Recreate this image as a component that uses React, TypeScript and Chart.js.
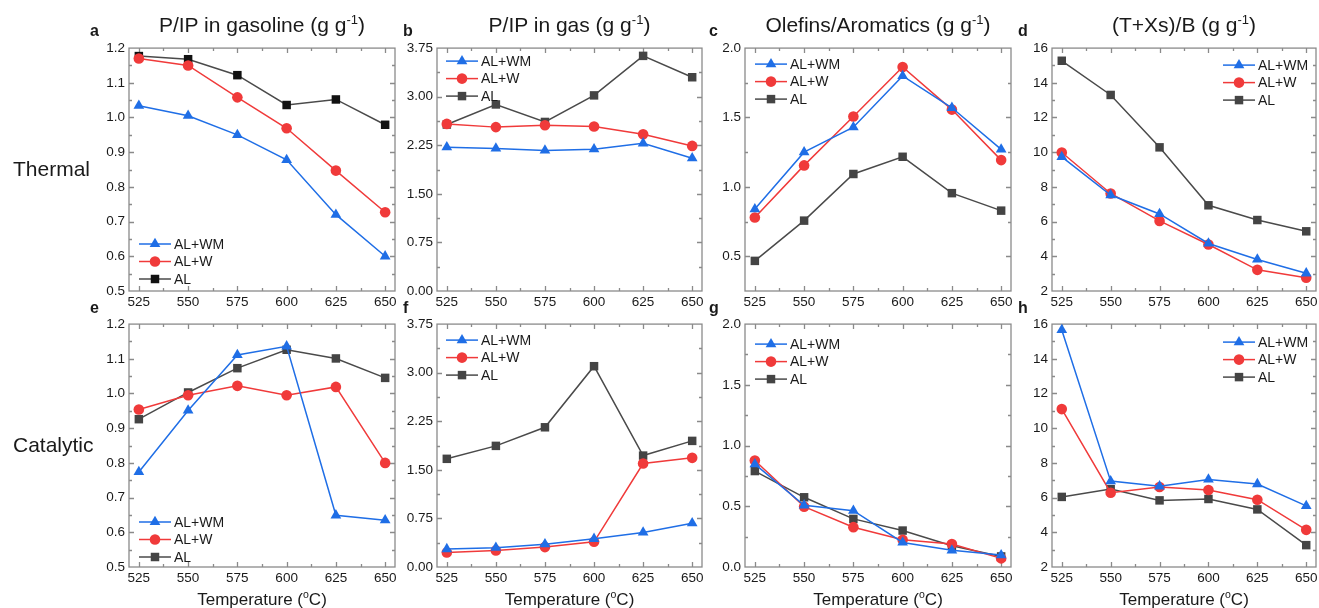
import React, { useEffect, useRef } from 'react';
import { Chart, registerables } from 'chart.js';

Chart.register(...registerables);

// ---------------- data ----------------
const temperatures = [525, 550, 575, 600, 625, 650];
const xTickValues = [525, 550, 575, 600, 625, 650];
const seriesLabels = ['AL+WM', 'AL+W', 'AL'];
const rowLabels = ['Thermal', 'Catalytic'];
const panelTitles = ['P/IP in gasoline', 'P/IP in gas', 'Olefins/Aromatics', '(T+Xs)/B'];
const panelLetters = ['a', 'b', 'c', 'd', 'e', 'f', 'g', 'h'];

// Thermal
const aWM = [1.034, 1.005, 0.95, 0.878, 0.72, 0.6];
const aW = [1.17, 1.15, 1.058, 0.969, 0.847, 0.727];
const aAL = [1.177, 1.168, 1.122, 1.036, 1.052, 0.979];

const bWM = [2.22, 2.2, 2.17, 2.19, 2.28, 2.05];
const bW = [2.58, 2.53, 2.56, 2.54, 2.42, 2.24];
const bAL = [2.57, 2.88, 2.61, 3.02, 3.63, 3.3];

const cWM = [0.84, 1.25, 1.43, 1.8, 1.57, 1.27];
const cW = [0.78, 1.155, 1.507, 1.864, 1.557, 1.193];
const cAL = [0.467, 0.757, 1.093, 1.217, 0.955, 0.829];

const dWM = [9.73, 7.53, 6.44, 4.74, 3.82, 3.02];
const dW = [9.98, 7.62, 6.04, 4.68, 3.22, 2.76];
const dAL = [15.27, 13.3, 10.28, 6.94, 6.09, 5.44];

// Catalytic
const eWM = [0.774, 0.951, 1.111, 1.136, 0.649, 0.635];
const eW = [0.954, 0.995, 1.022, 0.995, 1.019, 0.8];
const eAL = [0.926, 1.003, 1.073, 1.126, 1.101, 1.045];

const fWM = [0.277, 0.297, 0.353, 0.435, 0.533, 0.676];
const fW = [0.225, 0.256, 0.307, 0.389, 1.598, 1.685];
const fAL = [1.67, 1.87, 2.157, 3.1, 1.72, 1.947];

const gWM = [0.847, 0.508, 0.464, 0.202, 0.137, 0.098];
const gW = [0.877, 0.497, 0.328, 0.224, 0.189, 0.071];
const gAL = [0.79, 0.574, 0.396, 0.3, 0.175, 0.087];

const hWM = [15.66, 6.95, 6.65, 7.05, 6.78, 5.52];
const hW = [11.1, 6.28, 6.61, 6.44, 5.88, 4.14];
const hAL = [6.04, 6.49, 5.84, 5.92, 5.32, 3.26];

// y tick labels
const ticksGasoline = [0.5, 0.6, 0.7, 0.8, 0.9, 1.0, 1.1, 1.2];
const ticksGas = [0, 0.75, 1.5, 2.25, 3.0, 3.75];
const ticksOlefinsThermal = [0.5, 1.0, 1.5, 2.0];
const ticksOlefinsCat = [0, 0.5, 1.0, 1.5, 2.0];
const ticksTXB = [2, 4, 6, 8, 10, 12, 14, 16];

// ---------------- styling / layout ----------------
const FONT = "'Liberation Sans', Arial, Helvetica, sans-serif";
const BLUE = '#1f6ee6';
const RED = '#f03a3a';
const GRAY_LINE = '#4a4a4a';
const FRAME = '#8a8a8a';
const TEXT = '#1a1a1a';

const plotLefts = [129, 437, 745, 1052];
const plotWidths = [266, 265, 266, 264];
const rowTops = [46, 322];
const plotHeight = 245;
const PAD_L = 50;
const PAD_T = 10;
const PAD_R = 8;
const PAD_B = 26;

type Panel = {
  row: number;
  col: number;
  yMin: number;
  yMax: number;
  yTicks: number[];
  yMinor: number;
  decimals: number;
  series: number[][];
  alPoint: string;
  legend: { corner: 'tl' | 'bl' | 'tr'; dx: number; dy: number };
};

const panels: Panel[] = [
  { row: 0, col: 0, yMin: 0.5, yMax: 1.2, yTicks: ticksGasoline, yMinor: 0.05, decimals: 1, series: [aWM, aW, aAL], alPoint: '#111111', legend: { corner: 'bl', dx: 10, dy: -47 } },
  { row: 0, col: 1, yMin: 0, yMax: 3.75, yTicks: ticksGas, yMinor: 0.375, decimals: 2, series: [bWM, bW, bAL], alPoint: '#444444', legend: { corner: 'tl', dx: 9, dy: 13 } },
  { row: 0, col: 2, yMin: 0.25, yMax: 2.0, yTicks: ticksOlefinsThermal, yMinor: 0.25, decimals: 1, series: [cWM, cW, cAL], alPoint: '#444444', legend: { corner: 'tl', dx: 10, dy: 16 } },
  { row: 0, col: 3, yMin: 2, yMax: 16, yTicks: ticksTXB, yMinor: 1, decimals: 0, series: [dWM, dW, dAL], alPoint: '#444444', legend: { corner: 'tr', dx: -93, dy: 17 } },
  { row: 1, col: 0, yMin: 0.5, yMax: 1.2, yTicks: ticksGasoline, yMinor: 0.05, decimals: 1, series: [eWM, eW, eAL], alPoint: '#444444', legend: { corner: 'bl', dx: 10, dy: -45 } },
  { row: 1, col: 1, yMin: 0, yMax: 3.75, yTicks: ticksGas, yMinor: 0.375, decimals: 2, series: [fWM, fW, fAL], alPoint: '#444444', legend: { corner: 'tl', dx: 9, dy: 16 } },
  { row: 1, col: 2, yMin: 0, yMax: 2.0, yTicks: ticksOlefinsCat, yMinor: 0.25, decimals: 1, series: [gWM, gW, gAL], alPoint: '#444444', legend: { corner: 'tl', dx: 10, dy: 20 } },
  { row: 1, col: 3, yMin: 2, yMax: 16, yTicks: ticksTXB, yMinor: 1, decimals: 0, series: [hWM, hW, hAL], alPoint: '#444444', legend: { corner: 'tr', dx: -93, dy: 18 } },
];

const markerStyles = ['triangle', 'circle', 'rect'];
const markerRadius = [6.2, 5.3, 6];

function drawMarker(ctx: CanvasRenderingContext2D, style: string, x: number, y: number, r: number, color: string) {
  ctx.fillStyle = color;
  ctx.beginPath();
  if (style === 'triangle') {
    ctx.moveTo(x, y - r);
    ctx.lineTo(x + r * 0.866, y + r * 0.5);
    ctx.lineTo(x - r * 0.866, y + r * 0.5);
    ctx.closePath();
  } else if (style === 'circle') {
    ctx.arc(x, y, r, 0, Math.PI * 2);
  } else {
    const s = r * Math.SQRT1_2;
    ctx.rect(x - s, y - s, 2 * s, 2 * s);
  }
  ctx.fill();
}

function stepValues(min: number, max: number, step: number): number[] {
  const out: number[] = [];
  const n = Math.round((max - min) / step);
  for (let i = 0; i <= n; i++) out.push(+(min + i * step).toFixed(6));
  return out;
}

const framePlugin = {
  id: 'originFrame',
  beforeDatasetsDraw(chart: any, _args: any, opts: any) {
    const { ctx, chartArea, scales } = chart;
    const { left, right, top, bottom } = chartArea;
    const x = scales.x;
    const y = scales.y;
    ctx.save();
    ctx.strokeStyle = FRAME;
    ctx.lineWidth = 1.3;
    ctx.beginPath();
    // x ticks (major + minor), inward on bottom and top
    const xMajor: number[] = opts.xMajor;
    const xAll: [number, number][] = [];
    xMajor.forEach((v: number, i: number) => {
      xAll.push([v, 5]);
      if (i < xMajor.length - 1) xAll.push([(v + xMajor[i + 1]) / 2, 3]);
    });
    xAll.forEach(([v, len]) => {
      const px = Math.round(x.getPixelForValue(v)) + 0.5;
      ctx.moveTo(px, bottom);
      ctx.lineTo(px, bottom - len);
      ctx.moveTo(px, top);
      ctx.lineTo(px, top + len);
    });
    // y ticks (major + minor), inward on left and right
    const yMajor: number[] = opts.yMajor;
    stepValues(opts.yMin, opts.yMax, opts.yMinor).forEach((v) => {
      if (v <= opts.yMin || v >= opts.yMax) return;
      const isMajor = yMajor.some((m) => Math.abs(m - v) < 1e-6);
      const len = isMajor ? 5 : 3;
      const py = Math.round(y.getPixelForValue(v)) + 0.5;
      ctx.moveTo(left, py);
      ctx.lineTo(left + len, py);
      ctx.moveTo(right, py);
      ctx.lineTo(right - len, py);
    });
    ctx.stroke();
    ctx.strokeRect(left, top, right - left, bottom - top);
    ctx.restore();
  },
};

const legendPlugin = {
  id: 'insideLegend',
  afterDraw(chart: any, _args: any, opts: any) {
    const { ctx, chartArea } = chart;
    const { corner, dx, dy } = opts;
    const x0 = (corner === 'tr' ? chartArea.right : chartArea.left) + dx;
    const y0 = (corner === 'bl' ? chartArea.bottom : chartArea.top) + dy;
    ctx.save();
    chart.data.datasets.forEach((ds: any, i: number) => {
      const yy = y0 + i * 17.5;
      ctx.strokeStyle = ds.borderColor;
      ctx.lineWidth = 1.5;
      ctx.beginPath();
      ctx.moveTo(x0, yy);
      ctx.lineTo(x0 + 32, yy);
      ctx.stroke();
      drawMarker(ctx, ds.pointStyle, x0 + 16, yy, ds.pointRadius, ds.pointBackgroundColor);
      ctx.fillStyle = TEXT;
      ctx.font = `14px ${FONT}`;
      ctx.textBaseline = 'middle';
      ctx.textAlign = 'left';
      ctx.fillText(ds.label, x0 + 35, yy + 1);
    });
    ctx.restore();
  },
};

function PanelChart({ p }: { p: Panel }) {
  const ref = useRef<HTMLCanvasElement>(null);
  const plotW = plotWidths[p.col];
  const w = PAD_L + plotW + PAD_R;
  const h = PAD_T + plotHeight + PAD_B;
  const left = plotLefts[p.col] - PAD_L;
  const top = rowTops[p.row] - PAD_T;

  useEffect(() => {
    const lineColors = [BLUE, RED, GRAY_LINE];
    const pointColors = [BLUE, RED, p.alPoint];
    const chart = new Chart(ref.current as HTMLCanvasElement, {
      type: 'line',
      data: {
        datasets: p.series.map((vals, i) => ({
          label: seriesLabels[i],
          data: temperatures.map((t, j) => ({ x: t, y: vals[j] })),
          borderColor: lineColors[i],
          backgroundColor: pointColors[i],
          pointBackgroundColor: pointColors[i],
          pointBorderColor: pointColors[i],
          pointBorderWidth: 0,
          borderWidth: 1.5,
          pointStyle: markerStyles[i],
          pointRadius: markerRadius[i],
          tension: 0,
          order: i === 2 ? 3 : i === 1 ? 2 : 1,
        })),
      } as any,
      options: {
        responsive: false,
        animation: false,
        events: [],
        layout: { padding: { left: 0, top: PAD_T, right: PAD_R, bottom: 0 } },
        plugins: {
          legend: { display: false },
          title: { display: false },
          tooltip: { enabled: false },
          originFrame: { xMajor: xTickValues, yMajor: p.yTicks, yMin: p.yMin, yMax: p.yMax, yMinor: p.yMinor },
          insideLegend: p.legend,
        } as any,
        scales: {
          x: {
            type: 'linear',
            min: 520,
            max: 655,
            grid: { display: false, drawTicks: false },
            border: { display: false },
            afterBuildTicks: (s: any) => {
              s.ticks = xTickValues.map((v) => ({ value: v }));
            },
            afterFit: (s: any) => {
              s.height = PAD_B;
            },
            ticks: {
              padding: 3,
              autoSkip: false,
              maxRotation: 0,
              color: TEXT,
              font: { family: FONT, size: 13.5 },
              callback: (v: any) => String(v),
            },
          },
          y: {
            type: 'linear',
            min: p.yMin,
            max: p.yMax,
            grid: { display: false, drawTicks: false },
            border: { display: false },
            afterBuildTicks: (s: any) => {
              s.ticks = p.yTicks.map((v) => ({ value: v }));
            },
            afterFit: (s: any) => {
              s.width = PAD_L;
            },
            ticks: {
              padding: 4,
              autoSkip: false,
              color: TEXT,
              font: { family: FONT, size: 13.5 },
              callback: (v: any) => Number(v).toFixed(p.decimals),
            },
          },
        },
      } as any,
      plugins: [framePlugin, legendPlugin],
    });
    return () => chart.destroy();
  }, []);

  return (
    <canvas
      ref={ref}
      width={w}
      height={h}
      style={{ position: 'absolute', left, top, width: w, height: h }}
    />
  );
}

const supStyle: React.CSSProperties = { fontSize: '0.62em', position: 'relative', top: '-0.6em' };

export default function App() {
  return (
    <div
      style={{
        position: 'absolute',
        left: 0,
        top: 0,
        width: 1319,
        height: 608,
        background: '#ffffff',
        overflow: 'hidden',
        fontFamily: FONT,
        color: TEXT,
      }}
    >
      {panels.map((p, i) => (
        <PanelChart key={i} p={p} />
      ))}

      {panelTitles.map((t, c) => (
        <div
          key={'t' + c}
          style={{
            position: 'absolute',
            left: plotLefts[c] - 40,
            width: plotWidths[c] + 80,
            top: 14,
            fontSize: 21,
            lineHeight: '21px',
            textAlign: 'center',
            whiteSpace: 'nowrap',
          }}
        >
          {t} (g g<span style={supStyle}>-1</span>)
        </div>
      ))}

      {panelLetters.map((l, i) => {
        const row = Math.floor(i / 4);
        const col = i % 4;
        const lx = [90, 403, 709, 1018][col];
        return (
          <div
            key={'l' + i}
            style={{
              position: 'absolute',
              left: lx,
              top: row === 0 ? 22.5 : 299.5,
              fontSize: 16,
              lineHeight: '16px',
              fontWeight: 'bold',
            }}
          >
            {l}
          </div>
        );
      })}

      {rowLabels.map((r, i) => (
        <div
          key={'r' + i}
          style={{
            position: 'absolute',
            left: 13,
            top: i === 0 ? 158 : 434,
            fontSize: 21,
            lineHeight: '21px',
            whiteSpace: 'nowrap',
          }}
        >
          {r}
        </div>
      ))}

      {plotLefts.map((pl, c) => (
        <div
          key={'x' + c}
          style={{
            position: 'absolute',
            left: pl - 40,
            width: plotWidths[c] + 80,
            top: 590.5,
            fontSize: 17,
            lineHeight: '17px',
            textAlign: 'center',
            whiteSpace: 'nowrap',
          }}
        >
          Temperature (<span style={supStyle}>o</span>C)
        </div>
      ))}
    </div>
  );
}
